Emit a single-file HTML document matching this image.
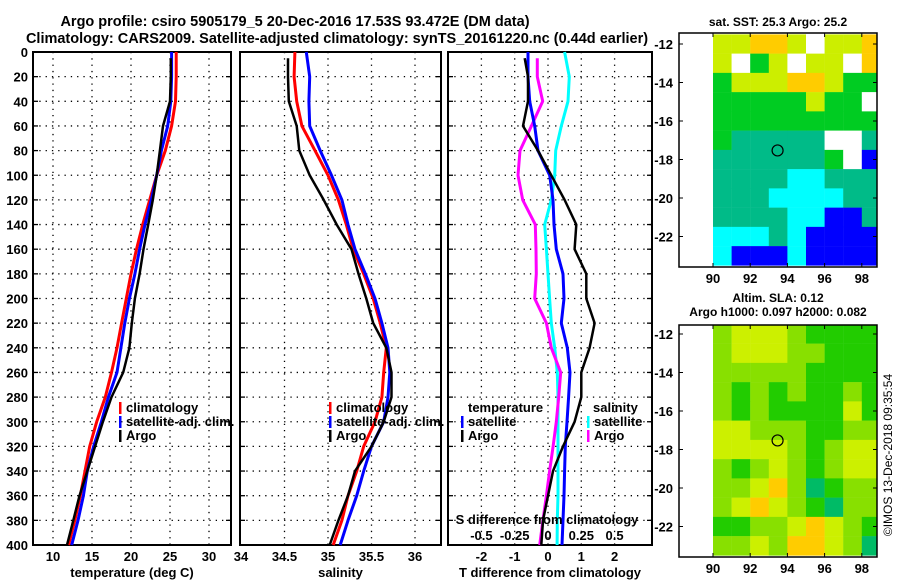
<!DOCTYPE html>
<html><head><meta charset="utf-8"><style>
html,body{margin:0;padding:0;background:#fff;}
svg{display:block;font-family:"Liberation Sans",sans-serif;font-weight:bold;}
</style></head><body>
<svg id="s" width="900" height="580" viewBox="0 0 900 580" xmlns="http://www.w3.org/2000/svg">
<text x="295" y="26" font-size="14.5" text-anchor="middle">Argo profile: csiro 5905179_5 20-Dec-2016 17.53S 93.472E (DM data)</text>
<text x="337" y="43" font-size="14.5" text-anchor="middle">Climatology: CARS2009. Satellite-adjusted climatology: synTS_20161220.nc (0.44d earlier)</text>
<g id="g"></g>
</svg>
<script>
// ---- data ----
const depths=[0,20,40,60,80,100,120,140,160,180,200,220,240,260,280,300,320,340,360,380,400];
const argoDepths=[5,20,40,60,80,100,120,140,160,180,200,220,240,260,280,300,320,340,360,380,400];
const tempClim=[25.8,25.8,25.7,25.2,24.4,23.3,22.4,21.5,20.7,20.0,19.4,18.8,18.2,17.5,16.7,15.6,14.7,14.1,13.5,12.8,12.0];
const tempSat=[25.2,25.2,25.1,24.7,23.9,23.3,22.6,21.8,21.1,20.5,19.8,19.2,18.7,18.2,17.1,16.2,15.2,14.4,13.9,13.2,12.4];
const tempArgo=[25.1,25.1,25.0,24.1,23.7,23.3,22.8,22.2,21.6,21.1,20.5,20.1,19.8,19.0,17.5,16.4,15.4,14.4,13.4,12.6,11.8];
const salClim=[34.62,34.61,34.64,34.70,34.85,35.00,35.12,35.21,35.29,35.41,35.52,35.60,35.67,35.64,35.62,35.54,35.41,35.33,35.23,35.16,35.06];
const salSat=[34.75,34.79,34.78,34.79,34.91,35.04,35.16,35.23,35.31,35.43,35.54,35.62,35.69,35.71,35.69,35.64,35.50,35.41,35.33,35.23,35.14];
const salArgo=[34.54,34.54,34.55,34.64,34.67,34.79,34.95,35.10,35.27,35.35,35.44,35.52,35.67,35.73,35.73,35.64,35.50,35.31,35.23,35.12,35.02];
const tDiffSat=[-0.6,-0.6,-0.55,-0.4,-0.3,0.05,0.15,0.18,0.25,0.45,0.48,0.4,0.58,0.66,0.62,0.57,0.52,0.5,0.48,0.45,0.42];
const tDiffArgo=[-0.7,-0.6,-0.6,-0.75,-0.3,0.1,0.5,0.85,0.8,1.15,1.15,1.4,1.25,1.0,1.0,0.8,0.45,0.15,0.0,-0.15,-0.2];
const sDiffSat=[0.125,0.16,0.15,0.1,0.058,0.05,0.025,-0.025,-0.012,0,0.012,0.025,0.05,0.07,0.075,0.075,0.075,0.075,0.075,0.07,0.068];
const sDiffArgo=[-0.08,-0.08,-0.04,-0.125,-0.21,-0.225,-0.19,-0.095,-0.09,-0.088,-0.1,-0.012,0.025,0.095,0.08,0.062,0.038,0.012,-0.012,-0.038,-0.062];
const depthTicks=[0,20,40,60,80,100,120,140,160,180,200,220,240,260,280,300,320,340,360,380,400];
const tempTicks=[10,15,20,25,30];
const salTicks=[34,34.5,35,35.5,36];
const tDiffTicks=[-2,-1,0,1,2];
const sDiffTicks=[-0.5,-0.25,0,0.25,0.5];
const sDiffLabels=["-0.5","-0.25","0","0.25","0.5"];
const latTicks=[-12,-14,-16,-18,-20,-22];
const lonTicks=[90,92,94,96,98];
const sstRows=["YYOOYWYYO","YWGYWYYWO","GYYYOOYGG","GGGGGYGGW","GGGGGGGGG","GgggggWWg","ggggggGWB","ggggCCggg","gggCCCCgg","ggggCCBBg","CCCgCBBBB","CBBBCBBBB"];
const slaRows=["LYYYLGGGG","LYYYLLGGG","LLLLLGGGG","LGLGLGGLG","LGLGGGGYG","YYLLLGGLL","YYYYLGLYY","LGLYLGLYY","LLYOLDGLL","LYOYLGDLL","GGLLYOYLG","LLYLOOYLD"];
const argoLon=93.472, argoLat=-17.53;
// ---- drawing ----
const NS="http://www.w3.org/2000/svg";
const G=document.getElementById('g');
function el(t,a,p){const e=document.createElementNS(NS,t);for(const k in a)e.setAttribute(k,a[k]);(p||G).appendChild(e);return e;}
function txt(x,y,s,size,anchor,p){const e=el('text',{x:x,y:y,'font-size':size,'text-anchor':anchor||'middle'},p);e.textContent=s;return e;}
const Y0=52,Y1=545;
const yD=d=>Y0+d*(Y1-Y0)/400;
function panel(name,x0,x1,xs,ticks,labels,xlabel,showY){
  const g=el('g',{});
  
  
  depthTicks.forEach(d=>{const y=yD(d);
    if(d>0&&d<400) el('line',{x1:x0,x2:x1,y1:y,y2:y,stroke:'#000','stroke-width':1.3,'stroke-dasharray':'1.3 5'},g);
    el('line',{x1:x0,x2:x0+5,y1:y,y2:y,stroke:'#000','stroke-width':1.3},g);
    el('line',{x1:x1-5,x2:x1,y1:y,y2:y,stroke:'#000','stroke-width':1.3},g);
    if(showY){const t=txt(28,y+5,String(d),13,'end',g);}
  });
  ticks.forEach((v,i)=>{const x=xs(v);
    if(x>x0+2&&x<x1-2) el('line',{x1:x,x2:x,y1:Y0,y2:Y1,stroke:'#000','stroke-width':1.3,'stroke-dasharray':'1.3 5'},g);
    const t=txt(x,561,labels?labels[i]:String(v),13,'middle',g);
    
  });
  el('rect',{x:x0,y:Y0,width:x1-x0,height:Y1-Y0,fill:'none',stroke:'#000','stroke-width':2},g);
  const xl=txt((x0+x1)/2,577,xlabel,13,'middle',g);
  
  return g;
}
function line(g,xs,vals,ds,color,w,name){
  const pts=vals.map((v,i)=>xs(v).toFixed(1)+','+yD(ds[i]).toFixed(1)).join(' ');
  const e=el('polyline',{points:pts,fill:'none',stroke:color,'stroke-width':w,'stroke-linejoin':'round'},g);
  
  
}
function legend(g,x,y,items){
  items.forEach((it,i)=>{
    el('rect',{x:x,y:y+i*14-10,width:2.5,height:12,fill:it[1]},g);
    const t=txt(x+7,y+i*14,it[0],13,'start',g);
    
  });
}
const xT=t=>53+(t-10)*7.8;
const p1=panel('temperature-panel',33,231,xT,tempTicks,null,'temperature (deg C)',true);
line(p1,xT,tempClim,depths,'#f00',3,'temp-climatology-line');
line(p1,xT,tempSat,depths,'#00f',3,'temp-satellite-line');
line(p1,xT,tempArgo,argoDepths,'#000',2.5,'temp-argo-line');
legend(p1,119,412,[['climatology','#f00'],['satellite-adj. clim.','#00f'],['Argo','#000']]);
const xS=s=>241+(s-34)*87;
const p2=panel('salinity-panel',240,441,xS,salTicks,null,'salinity',false);
line(p2,xS,salClim,depths,'#f00',3,'sal-climatology-line');
line(p2,xS,salSat,depths,'#00f',3,'sal-satellite-line');
line(p2,xS,salArgo,argoDepths,'#000',2.5,'sal-argo-line');
legend(p2,329,412,[['climatology','#f00'],['satellite-adj. clim.','#00f'],['Argo','#000']]);
const xTD=t=>548+t*33.3;
const xSD=s=>548+s*133.2;
const p3=panel('difference-panel',448,652,xTD,tDiffTicks,null,'T difference from climatology',false);
line(p3,xSD,sDiffSat,depths,'#0ff',3,'s-diff-satellite-line');
line(p3,xSD,sDiffArgo,argoDepths,'#f0f',3,'s-diff-argo-line');
line(p3,xTD,tDiffSat,depths,'#00f',3,'t-diff-satellite-line');
line(p3,xTD,tDiffArgo,argoDepths,'#000',2.5,'t-diff-argo-line');
let lt=txt(468,412,'temperature',13,'start',p3);
legend(p3,461,426,[['satellite','#00f'],['Argo','#000']]);
let ls=txt(593,412,'salinity',13,'start',p3);
legend(p3,587,426,[['satellite','#0ff'],['Argo','#f0f']]);
let st=txt(547,524,'S difference from climatology',13,'middle',p3);
sDiffTicks.forEach((v,i)=>{const t=txt(xSD(v),540,sDiffLabels[i],13,'middle',p3);});
const sstCol={Y:'#ccee00',O:'#ffcc00',W:'#ffffff',G:'#00cc22',g:'#00bb88',C:'#00ffff',B:'#0000ff'};
const slaCol={L:'#88e000',Y:'#ccf000',G:'#22cc00',O:'#ffcc00',D:'#00bb66'};
const xLon=l=>713+(l-90)*18.6;
function map(name,top,bot,lat12,rows,cols,t1,t2){
  const g=el('g',{});
  
  
  const yLat=la=>lat12+(-12-la)*19.25;
  const cid='c'+name;
  const cp=el('clipPath',{id:cid},g);el('rect',{x:679,y:top,width:198,height:bot-top},cp);
  const cg=el('g',{'clip-path':'url(#'+cid+')'},g);
  rows.forEach((r,i)=>{for(let j=0;j<r.length;j++){
    const la=-11.5-i, lo=90+j;
    const c=el('rect',{x:xLon(lo),y:yLat(la),width:18.8,height:19.5,fill:cols[r[j]]},cg);
    
    
  }});
  el('rect',{x:679,y:top,width:198,height:bot-top,fill:'none',stroke:'#000','stroke-width':1.5},g);
  latTicks.forEach(la=>{const y=yLat(la);
    el('line',{x1:679,x2:683,y1:y,y2:y,stroke:'#000'},g);el('line',{x1:873,x2:877,y1:y,y2:y,stroke:'#000'},g);
    const t=txt(673,y+5,String(la),13,'end',g);});
  lonTicks.forEach(lo=>{const x=xLon(lo);
    el('line',{x1:x,x2:x,y1:bot-4,y2:bot,stroke:'#000'},g);el('line',{x1:x,x2:x,y1:top,y2:top+4,stroke:'#000'},g);
    const t=txt(x,bot+16,String(lo),13,'middle',g);});
  const c=el('circle',{cx:xLon(argoLon),cy:yLat(argoLat),r:5.5,fill:'none',stroke:'#000','stroke-width':1.2},g);
  
  const a=txt(778,t1[1],t1[0],12,'middle',g);
  if(t2){const b=txt(778,t2[1],t2[0],12,'middle',g);}
}
map('sst-map',33,267,44,sstRows,sstCol,['sat. SST: 25.3 Argo: 25.2',26]);
map('sla-map',325,557,334,slaRows,slaCol,['Altim. SLA: 0.12',302],['Argo h1000: 0.097 h2000: 0.082',316]);
const cr=txt(0,0,'©IMOS 13-Dec-2018 09:35:54',12,'middle');
cr.setAttribute('transform','translate(892,455) rotate(-90)');
cr.setAttribute('font-weight','normal');


</script>
</body></html>
